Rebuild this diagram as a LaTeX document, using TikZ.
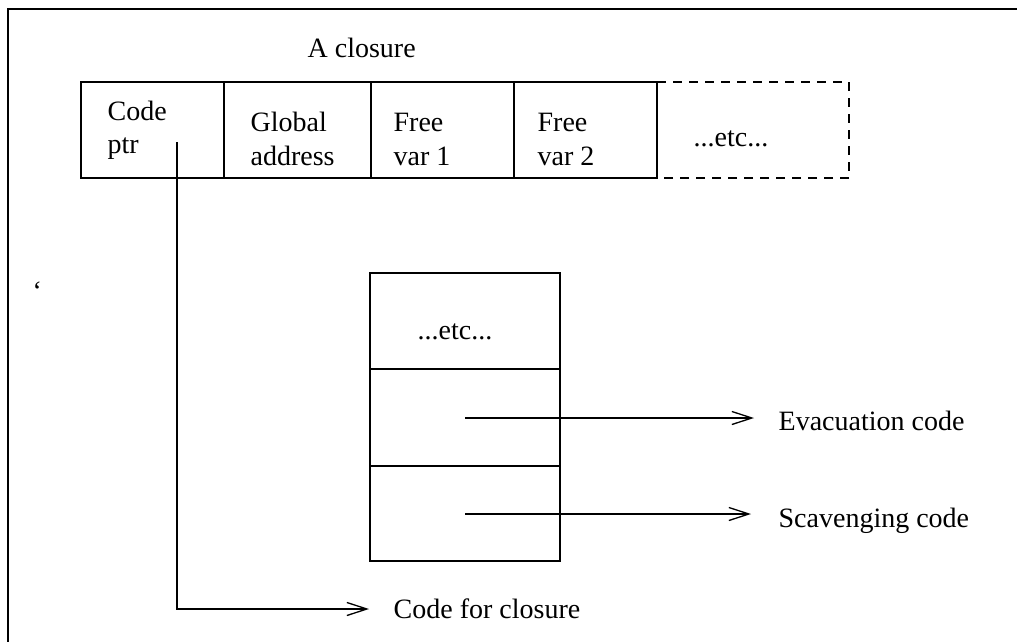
\documentclass[tikz,border=0pt]{standalone}
\usepackage{fontspec}
\setmainfont{Liberation Serif}
\usetikzlibrary{arrows.meta}
\begin{document}
\begin{tikzpicture}[x=1pt,y=-1pt,
  line width=1.3pt,
  lbl/.style={inner sep=0pt,anchor=base west,font=\fontsize{28}{34}\selectfont},
  cell/.style={draw,line width=1.3pt,inner sep=0pt},
  ptr/.style={line width=1.3pt,-{Straight Barb[length=20pt,width=13pt,line width=1.3pt]}}]
\useasboundingbox (0,0) rectangle (1017,642);
% frame
\draw[line width=1.8pt] (8,642) -- (8,9) -- (1017,9);

% closure record
\node[lbl] (title) at (307,58) {A closure};
\node[cell,minimum width=143pt,minimum height=96pt] (c1) at (152.5,130) {};
\node[cell,minimum width=147pt,minimum height=96pt] (c2) at (297.5,130) {};
\node[cell,minimum width=143pt,minimum height=96pt] (c3) at (442.5,130) {};
\node[cell,minimum width=143pt,minimum height=96pt] (c4) at (585.5,130) {};
\coordinate (d1) at (657,82);
\coordinate (d2) at (849,82);
\coordinate (d3) at (849,178);
\coordinate (d4) at (657,178);
\draw[dashed,dash pattern=on 9pt off 7pt] (d1) -- (d2) -- (d3) -- (d4);

\node[lbl] at (107,120) {Code};
\node[lbl] at (107,153) {ptr};
\node[lbl] at (250,131) {Global};
\node[lbl] at (250,165) {address};
\node[lbl] at (393,131) {Free};
\node[lbl] at (393,165) {var 1};
\node[lbl] at (537,131) {Free};
\node[lbl] at (537,165) {var 2};
\node[lbl] at (693,146) {...etc...};

% info table
\node[cell,minimum width=190pt,minimum height=96pt] (t1) at (465,321) {};
\node[cell,minimum width=190pt,minimum height=97pt] (t2) at (465,417.5) {};
\node[cell,minimum width=190pt,minimum height=95pt] (t3) at (465,513.5) {};
\node[lbl] at (417,339) {...etc...};

\node[lbl] (evac) at (778,430) {Evacuation code};
\node[lbl] (scav) at (778,527) {Scavenging code};
\node[lbl] (cfc) at (393,618) {Code for closure};
\node[lbl] at (32,300) {‘};

\coordinate (e0) at (465,418);
\coordinate (s0) at (465,514);
\coordinate (p0) at (177,142);
\coordinate (p1) at (177,609);
\draw[ptr] (e0) -- ([xshift=-24pt]evac.west |- e0);
\draw[ptr] (s0) -- ([xshift=-27pt]scav.west |- s0);
\draw[ptr] (p0) -- (p1) -- ([xshift=-24pt]cfc.west |- p1);
\end{tikzpicture}
\end{document}
